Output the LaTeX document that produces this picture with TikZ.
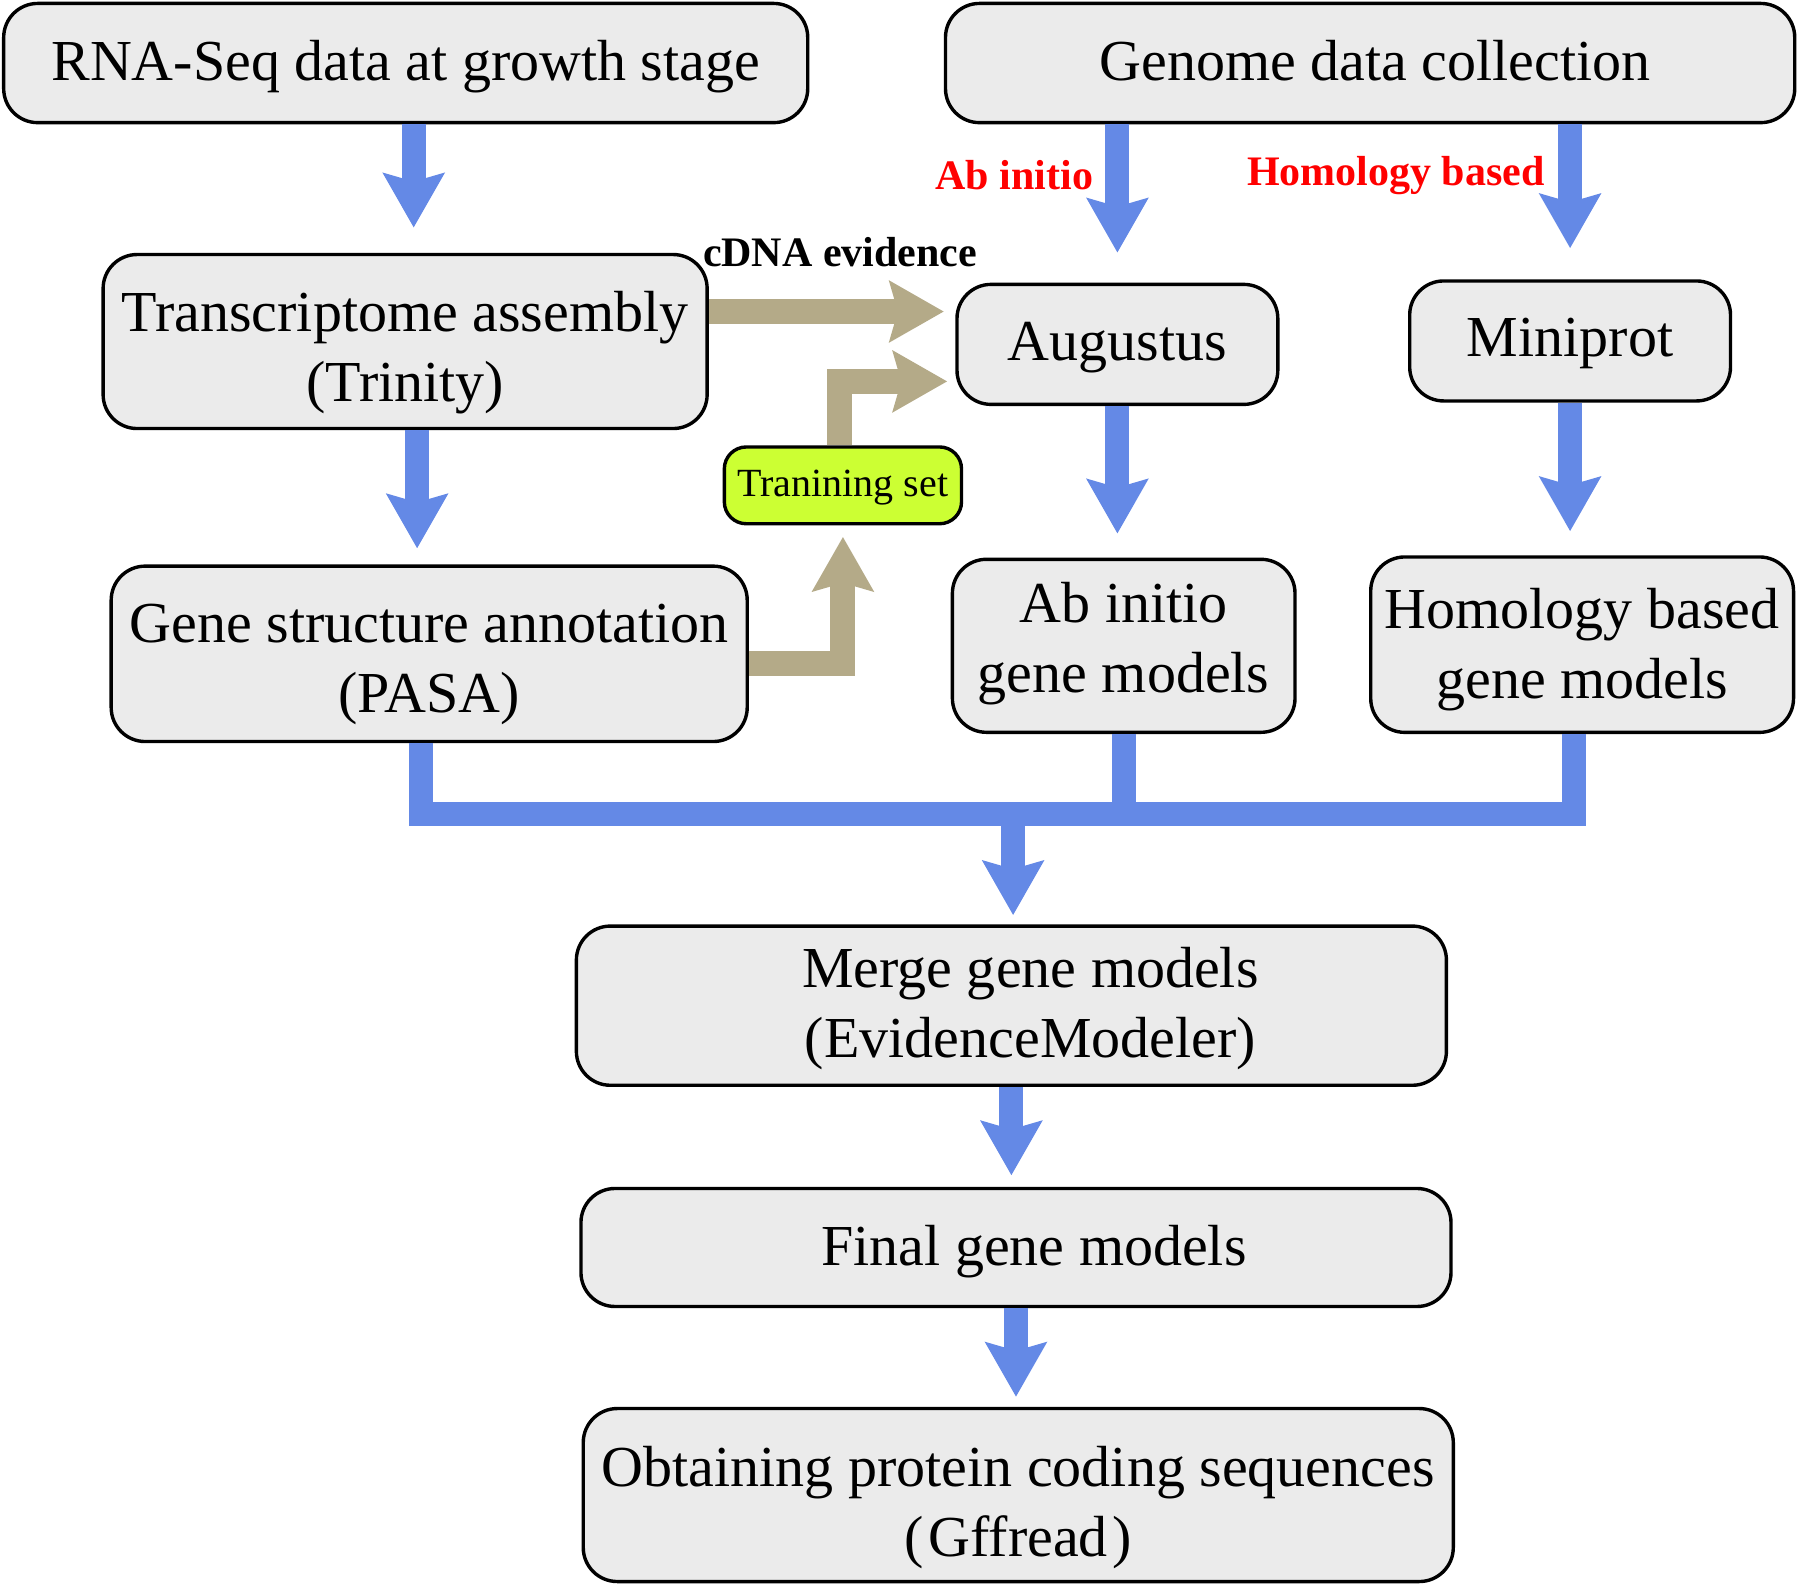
\documentclass[tikz,border=0pt]{standalone}
\usepackage{fontspec}
\setmainfont{Liberation Serif}
\usepackage{tikz}
\usetikzlibrary{positioning, calc, arrows.meta}
\definecolor{flowBlue}{RGB}{100, 137, 230}
\definecolor{flowTan}{RGB}{180, 170, 136}
\definecolor{boxGray}{RGB}{235, 235, 235}
\definecolor{setGreen}{RGB}{204, 255, 51}
% one text row of a box, dropped below the box centre
\newcommand{\boxrow}[1]{\smash{\raisebox{-\boxdrop}{\kern\boxnudge#1\kern-\boxnudge}}}

\begin{document}
\begin{tikzpicture}[x=0.573pt, y=-0.573pt,
  drop/.store in=\boxdrop, drop=8pt,
  nudge/.store in=\boxnudge, nudge=0pt,
  box/.style={draw, line width=1.7pt, fill=boxGray, rounded corners=17pt, align=center, inner sep=0pt, font=\fontsize{29}{35}\selectfont},
  flow/.style={draw=flowBlue, line width=12pt, -{Stealth[length=27pt, width=30pt, inset=4pt]}},
  evid/.style={draw=flowTan, line width=12.5pt, -{Stealth[length=27pt, width=30pt, inset=4pt]}},
  busline/.style={draw=flowBlue, line width=12pt, line join=miter},
  tag/.style={font=\fontsize{21}{25}\selectfont\bfseries}]
  \useasboundingbox (0,0) rectangle (1568,1382.2);

  % Boxes
  \node[box, drop=8.8pt, minimum width=402pt, minimum height=59.6pt] (rna) at (354,55) {\boxrow{RNA-Seq data at growth stage}};
  \node[box, drop=8.8pt, nudge=2.5pt, minimum width=424.6pt, minimum height=59.6pt] (genome) at (1195.5,55) {\boxrow{Genome data collection}};
  \node[box, drop=12.3pt, minimum width=302pt, minimum height=87pt] (trans) at (353.5,298) {\boxrow{Transcriptome assembly}\\\boxrow{(Trinity)}};
  \node[box, drop=7.9pt, minimum width=160.4pt, minimum height=60pt] (aug) at (975,300.5) {\boxrow{Augustus}};
  \node[box, drop=8pt, minimum width=160.4pt, minimum height=60pt] (mini) at (1370,297.5) {\boxrow{Miniprot}};
  \node[box, drop=5.8pt, fill=setGreen, rounded corners=11pt, minimum width=118.6pt, minimum height=38.4pt, font=\fontsize{20}{24}\selectfont] (train) at (735.5,423.5) {\boxrow{Tranining set}};
  \node[box, drop=12pt, minimum width=318pt, minimum height=87.7pt] (gene) at (374.5,570.5) {\boxrow{Gene structure annotation}\\\boxrow{(PASA)}};
  \node[box, drop=5.9pt, minimum width=171.3pt, minimum height=86.5pt] (abgm) at (980.5,563.5) {\boxrow{Ab initio}\\\boxrow{gene models}};
  \node[box, drop=9.2pt, minimum width=211.4pt, minimum height=87.7pt] (homgm) at (1380.5,562.5) {\boxrow{Homology based}\\\boxrow{gene models}};
  \node[box, drop=8.3pt, nudge=9.5pt, minimum width=435pt, minimum height=79.6pt] (merge) at (882.5,877.5) {\boxrow{Merge gene models}\\\boxrow{(EvidenceModeler)}};
  \node[box, drop=9.2pt, nudge=9pt, minimum width=435pt, minimum height=59pt] (final) at (886.5,1088.5) {\boxrow{Final gene models}};
  \node[box, drop=13.3pt, minimum width=435pt, minimum height=86.5pt] (obtain) at (888.5,1304.5) {\boxrow{Obtaining protein coding sequences}\\\boxrow{(\hspace{0.08em}Gffread\hspace{0.08em})}};

  % Labels
  \node[tag] (cdna) at (733,220) {cDNA evidence};
  \node[tag, text=red] (abtag) at (885,153) {Ab initio};
  \node[tag, text=red] (homtag) at (1218,153) {Homology based};

  % Blue flow
  \draw[flow, shorten >=12.6pt] ([xshift=4pt]rna.south) -- ([xshift=4pt]rna.south |- trans.north);
  \draw[flow, shorten >=8pt] ([xshift=6pt]trans.south) -- ([xshift=6pt]trans.south |- gene.north);
  \draw[flow, shorten >=15pt] (genome.south -| aug) -- (aug.north);
  \draw[flow, shorten >=15.5pt] (genome.south -| mini) -- (mini.north);
  \draw[flow, shorten >=12pt] (aug.south) -- (aug.south |- abgm.north);
  \draw[flow, shorten >=12pt] (mini.south) -- (mini.south |- homgm.north);

  % Merging bus
  \coordinate (bus) at (884,710);
  \draw[busline] ([xshift=-4pt]gene.south) |- (bus) -| ([xshift=-4pt]homgm.south);
  \draw[busline] (abgm.south) -- (abgm.south |- bus);
  \draw[flow, shorten >=4.6pt] ([yshift=-6pt]bus) -- (bus |- merge.north);
  \draw[flow, shorten >=5.7pt] (merge.south) -- (merge.south |- final.north);
  \draw[flow, shorten >=5pt] (final.south) -- (final.south |- obtain.north);

  % Evidence arrows
  \draw[evid, shorten >=5.7pt] ([yshift=15pt]trans.east) -- ([yshift=15pt]trans.east -| aug.west);
  \draw[evid, shorten >=4pt] ([xshift=-1.5pt]train.north) |- ([yshift=-18.5pt]aug.west);
  \draw[evid, shorten >=5.7pt] ([yshift=-5pt]gene.east) -| (train.south);
\end{tikzpicture}
\end{document}
